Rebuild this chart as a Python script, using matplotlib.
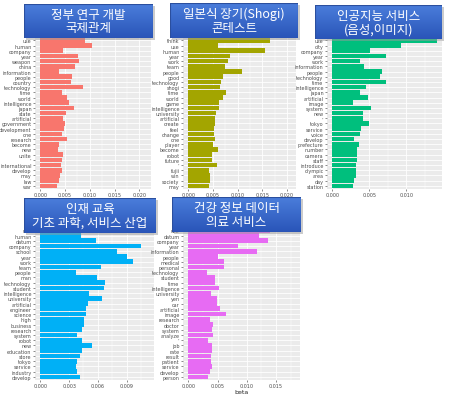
import numpy as np
import matplotlib.pyplot as plt
from matplotlib.colors import LinearSegmentedColormap
from matplotlib.patches import Rectangle
from matplotlib.ticker import MultipleLocator, FormatStrFormatter

W, H = 453, 402

# topic 1 : government / research / international
terms1 = ["ai", "use", "human", "company", "year", "weapon", "china", "information",
          "people", "country", "technology", "time", "world", "intelligence", "japan",
          "state", "artificial", "government", "development", "one", "research",
          "become", "new", "unite", "\u2019", "international", "develop", "may", "law", "war"]
beta1 = [0.0213, 0.0091, 0.0105, 0.0046, 0.0077, 0.0078, 0.0071, 0.0037,
         0.0064, 0.0063, 0.0086, 0.0043, 0.0053, 0.0059, 0.0069,
         0.0052, 0.0046, 0.0050, 0.0048, 0.0043, 0.0054,
         0.0037, 0.0036, 0.0045, 0.0044, 0.0041, 0.0044, 0.0039, 0.0037, 0.0034]

# topic 2 : shogi
terms2 = ["ai", "think", "use", "human", "year", "work", "team", "people", "good",
          "technology", "shogi", "time", "world", "game", "intelligence", "university",
          "artificial", "create", "feel", "change", "one", "player", "become", "robot",
          "future", "\u2019", "fujii", "win", "society", "may"]
beta2 = [0.0208, 0.0165, 0.0060, 0.0155, 0.0085, 0.0081, 0.0074, 0.0110, 0.0070,
         0.0067, 0.0064, 0.0076, 0.0070, 0.0063, 0.0063, 0.0057,
         0.0054, 0.0055, 0.0052, 0.0052, 0.0055, 0.0051, 0.0060, 0.0049,
         0.0049, 0.0059, 0.0042, 0.0044, 0.0044, 0.0042]

# topic 3 : AI services (voice, image)
terms3 = ["ai", "use", "city", "company", "year", "work", "information", "people",
          "technology", "time", "intelligence", "japan", "artificial", "image", "system",
          "new", "\u2019", "tokyo", "service", "voice", "develop", "prefecture", "number",
          "camera", "staff", "introduce", "olympic", "area", "day", "station"]
beta3 = [0.0120, 0.0141, 0.0093, 0.0051, 0.0073, 0.0038, 0.0043, 0.0067,
         0.0064, 0.0072, 0.0046, 0.0037, 0.0048, 0.0028, 0.0052,
         0.0041, 0.0041, 0.0050, 0.0039, 0.0038, 0.0030, 0.0036, 0.0034,
         0.0034, 0.0033, 0.0032, 0.0032, 0.0032, 0.0030, 0.0028]

# topic 4 : education / basic science / service industry
terms4 = ["ai", "use", "human", "datum", "company", "school", "year", "work", "team",
          "people", "man", "technology", "student", "intelligence", "university",
          "artificial", "engineer", "science", "high", "business", "research", "system",
          "robot", "new", "education", "store", "tokyo", "service", "industry", "develop"]
beta4 = [0.0113, 0.0082, 0.0042, 0.0058, 0.0105, 0.0080, 0.0090, 0.0097, 0.0063,
         0.0037, 0.0059, 0.0067, 0.0066, 0.0051, 0.0064,
         0.0050, 0.0048, 0.0048, 0.0046, 0.0046, 0.0043, 0.0038,
         0.0043, 0.0054, 0.0043, 0.0041, 0.0038, 0.0037, 0.0038, 0.0041]

# topic 5 : health data / medical service
terms5 = ["ai", "use", "datum", "company", "year", "information", "people", "medical",
          "personal", "technology", "student", "time", "intelligence", "university",
          "yen", "car", "artificial", "image", "research", "doctor", "system", "analyze",
          "\u2019", "job", "rate", "result", "patient", "service", "develop", "person"]
beta5 = [0.0182, 0.0140, 0.0121, 0.0136, 0.0085, 0.0118, 0.0051, 0.0061,
         0.0061, 0.0032, 0.0045, 0.0045, 0.0052, 0.0038,
         0.0049, 0.0049, 0.0055, 0.0064, 0.0037, 0.0043, 0.0041, 0.0043,
         0.0033, 0.0040, 0.0040, 0.0039, 0.0039, 0.0040, 0.0037, 0.0033]

titles = ["정부 연구 개발\n국제관계", "일본식 장기(Shogi)\n콘테스트", "인공지능 서비스\n(음성,이미지)",
          "인재 교육\n기초 과학, 서비스 산업", "건강 정보 데이터\n의료 서비스"]
colors = ["#F8766D", "#A3A500", "#00BF7D", "#00B0F6", "#E76BF3"]
steps = [0.005, 0.005, 0.005, 0.003, 0.005]

# pixel layout (left, top, right, bottom)
panel_px = [(35, 33, 151, 190), (183, 33, 296, 190), (327, 33, 442, 190),
            (35, 223, 154, 381), (183, 223, 300, 381)]
box_px = [(24, 5, 153, 39), (170, 4, 298, 39), (315, 6, 442, 40),
          (24, 199, 156, 234), (172, 198, 301, 233)]

fig = plt.figure(figsize=(W / 100, H / 100), dpi=100)


def px_axes(l, t, r, b):
    return fig.add_axes([l / W, 1 - b / H, (r - l) / W, (b - t) / H])


cmap = LinearSegmentedColormap.from_list("box", ["#4A7DDB", "#2A55B8"])
kfont = ["Noto Sans CJK KR", "DejaVu Sans"]

data = [(terms1, beta1), (terms2, beta2), (terms3, beta3), (terms4, beta4), (terms5, beta5)]
for i, (terms, beta) in enumerate(data):
    ax = px_axes(*panel_px[i])
    y = np.arange(len(terms))
    ax.barh(y, beta, height=0.9, color=colors[i], zorder=2)
    m = max(beta)
    ax.set_xlim(-0.05 * m, 1.05 * m)
    ax.set_ylim(len(terms) - 0.4, -0.6)
    ax.set_yticks(y)
    ax.set_yticklabels(terms)
    # the top row sits under the title box, as in the source image
    ax.get_yticklabels()[0].set_visible(False)
    ax.xaxis.set_major_locator(MultipleLocator(steps[i]))
    ax.xaxis.set_minor_locator(MultipleLocator(steps[i] / 2))
    ax.xaxis.set_major_formatter(FormatStrFormatter("%.3f"))
    ax.set_facecolor("#EBEBEB")
    ax.set_axisbelow(True)
    ax.grid(which="major", color="white", lw=0.6)
    ax.grid(which="minor", axis="x", color="white", lw=0.3)
    for s in ax.spines.values():
        s.set_visible(False)
    ax.tick_params(which="major", length=1.5, width=0.4, color="#333333",
                   labelsize=3.5, labelcolor="#4D4D4D", pad=1)
    ax.tick_params(which="minor", length=0)

    # title box
    l, t, r, b = box_px[i]
    sh = px_axes(l + 2, t + 2, r + 2, b + 2)
    sh.set_zorder(9)
    sh.set_facecolor("#9A9A9A")
    sh.patch.set_alpha(0.5)
    sh.set_xticks([])
    sh.set_yticks([])
    for s in sh.spines.values():
        s.set_visible(False)
    bx = px_axes(l, t, r, b)
    bx.set_zorder(10)
    bx.imshow(np.linspace(0, 1, 50).reshape(-1, 1), aspect="auto", cmap=cmap,
              extent=[0, 1, 0, 1], origin="upper")
    bx.add_patch(Rectangle((0, 0), 1, 1, transform=bx.transAxes, fill=False,
                           ec="#2B4F9E", lw=0.8))
    bx.text(0.5, 0.5, titles[i], color="white", ha="center", va="center",
            fontsize=9, family=kfont, linespacing=1.05, transform=bx.transAxes)
    bx.axis("off")

fig.text(241 / W, 1 - 393 / H, "beta", ha="center", va="center", fontsize=4.5, color="#222222")

fig.savefig("out.png", dpi=100)
